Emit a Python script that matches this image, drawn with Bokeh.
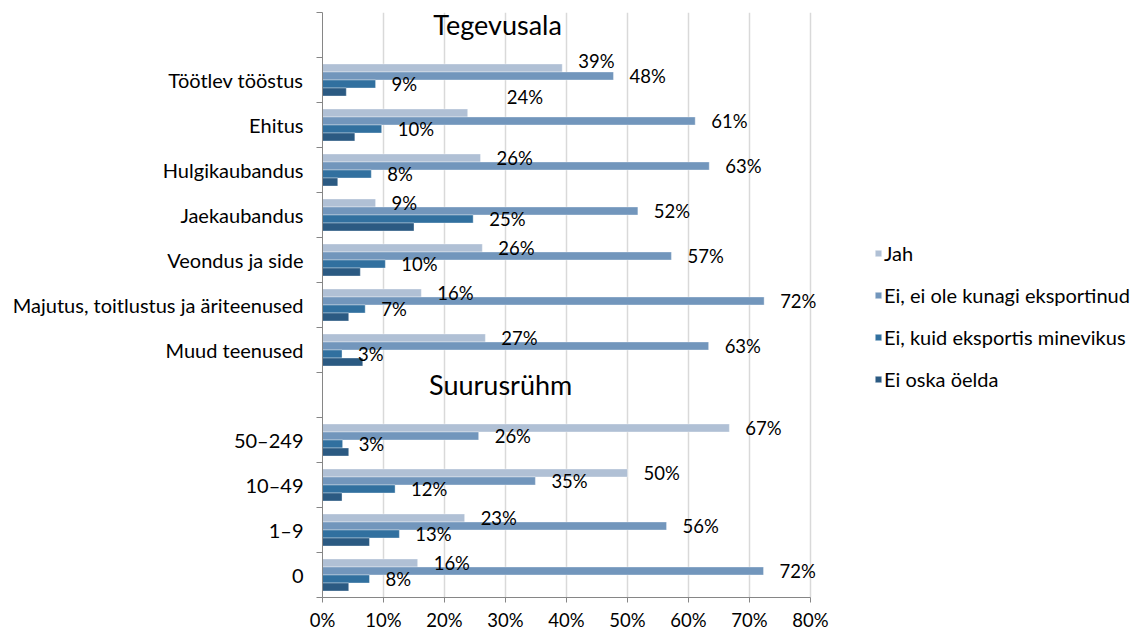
from bokeh.plotting import figure
from bokeh.models import ColumnDataSource, FixedTicker, Legend, LegendItem
from bokeh.core.properties import value
from bokeh.embed import file_html
from bokeh.resources import INLINE

# Rows from top to bottom; headings occupy their own empty rows
industries = ["Töötlev tööstus", "Ehitus", "Hulgikaubandus", "Jaekaubandus",
              "Veondus ja side", "Majutus, toitlustus ja äriteenused", "Muud teenused"]
sizes = ["50–249", "10–49", "1–9", "0"]
headings = ["Tegevusala", "Suurusrühm"]

series_names = ["Jah", "Ei, ei ole kunagi eksportinud",
                "Ei, kuid eksportis minevikus", "Ei oska öelda"]

# Shares in percent (industries first, then size groups)
jah = [39.3, 23.8, 25.9, 8.7, 26.2, 16.2, 26.7, 66.7, 50.0, 23.3, 15.6]
ei_ole = [47.7, 61.1, 63.4, 51.7, 57.2, 72.4, 63.3, 25.6, 34.9, 56.4, 72.3]
ei_kuid = [8.7, 9.7, 8.0, 24.7, 10.3, 7.0, 3.2, 3.3, 11.9, 12.6, 7.7]
ei_oska = [3.9, 5.3, 2.5, 15.0, 6.2, 4.3, 6.6, 4.3, 3.2, 7.7, 4.3]

x_ticks = [0, 10, 20, 30, 40, 50, 60, 70, 80]

colors = ["#B0C0D5", "#7296BC", "#31709F", "#2B5A82"]
FONT = "Lato"

W, H = 1135, 633
LEFT, TOP, BOTTOM = 322, 12, 36
AXIS_PX = 488          # pixel length of the 0..80 % axis
x_end = 80 * (W - LEFT) / AXIS_PX   # frame runs to the right edge so labels/legend are not clipped

n_rows = 13
# slot index of each category row (0 = top)
slots = [1, 2, 3, 4, 5, 6, 7, 9, 10, 11, 12]
heading_slots = [0, 8]
categories = industries + sizes
centers = [n_rows - s - 0.5 for s in slots]

bar_h = 0.178
shifts = [1.5, 0.5, -0.5, -1.5]

# label nudges in pixels for a couple of hand-placed labels (series, row) -> (dx, dy)
nudges = {(0, 0): (0, -7), (0, 1): (23, -16)}

p = figure(width=W, height=H, output_backend="svg", toolbar_location=None,
           x_range=(0, x_end), y_range=(0, n_rows),
           min_border_left=LEFT, min_border_right=0,
           min_border_top=TOP, min_border_bottom=BOTTOM)
p.outline_line_color = None
p.background_fill_color = "white"

p.xgrid.ticker = FixedTicker(ticks=x_ticks)
p.xgrid.grid_line_color = "#D9D9D9"
p.xgrid.grid_line_width = 1.5
p.ygrid.grid_line_color = None

all_series = [jah, ei_ole, ei_kuid, ei_oska]
renderers = []
label_sources = []
for k, vals in enumerate(all_series):
    ys = [c + shifts[k] * bar_h for c in centers]
    src = ColumnDataSource(dict(y=ys, right=vals))
    r = p.hbar(y="y", left=0, right="right", height=bar_h, source=src,
               fill_color=colors[k], line_color="white", line_alpha=0.35,
               line_width=1)
    renderers.append(r)
    if k < 3:
        dxs, dys = [], []
        for i in range(len(vals)):
            dx, dy = nudges.get((k, i), (0, 0))
            dxs.append(16 + dx)
            dys.append(0 + dy)
        label_sources.append(ColumnDataSource(dict(
            x=vals, y=ys, t=[f"{round(v):d}%" for v in vals], dx=dxs, dy=dys)))

# value labels drawn on top of all bars
for lsrc in label_sources:
    p.text(x="x", y="y", text="t", x_offset="dx", y_offset="dy", source=lsrc,
           text_font=value(FONT), text_font_size="18.5px",
           text_baseline="middle", text_align="left", text_color="#000000")

# Section headings
hsrc = ColumnDataSource(dict(x=[28.7, 29.2],
                             y=[n_rows - s - 0.5 for s in heading_slots],
                             t=headings))
p.text(x="x", y="y", text="t", y_offset=-11, source=hsrc,
       text_font=value(FONT), text_font_size="27px",
       text_baseline="middle", text_align="center", text_color="#000000")

# X axis
xa = p.xaxis[0]
xa.bounds = (0, 80)
xa.ticker = FixedTicker(ticks=x_ticks)
xa.major_label_overrides = {t: f"{t}%" for t in x_ticks}
xa.axis_line_color = "#868686"
xa.major_tick_line_color = "#868686"
xa.major_tick_out = 5
xa.major_tick_in = 0
xa.minor_tick_line_color = None
xa.major_label_text_font = FONT
xa.major_label_text_font_size = "18.5px"
xa.major_label_text_color = "#000000"
xa.major_label_standoff = 6

# Y axis: labels at row centres, tick marks at row boundaries
ya = p.yaxis[0]
ya.ticker = FixedTicker(ticks=centers, minor_ticks=list(range(0, n_rows + 1)))
ya.major_label_overrides = {c: name for c, name in zip(centers, categories)}
ya.axis_line_color = "#868686"
ya.major_tick_line_color = None
ya.major_tick_out = 0
ya.major_tick_in = 0
ya.minor_tick_line_color = "#868686"
ya.minor_tick_out = 6
ya.minor_tick_in = 0
ya.major_label_text_font = FONT
ya.major_label_text_font_size = "20px"
ya.major_label_text_color = "#000000"
ya.major_label_standoff = 13

# legend to the right of the bars (location = bottom-left corner, from frame bottom-left)
legend = Legend(items=[LegendItem(label=series_names[k], renderers=[renderers[k]])
                       for k in range(4)],
                location=(552, 206))
legend.border_line_color = None
legend.background_fill_alpha = 0
legend.padding = 0
legend.margin = 0
legend.glyph_width = 8
legend.glyph_height = 8
legend.label_standoff = 2
legend.label_height = 24
legend.spacing = 18
legend.label_text_font = FONT
legend.label_text_font_size = "20px"
legend.label_text_color = "#000000"
p.add_layout(legend)

open("out.html", "w").write(file_html(p, INLINE))
